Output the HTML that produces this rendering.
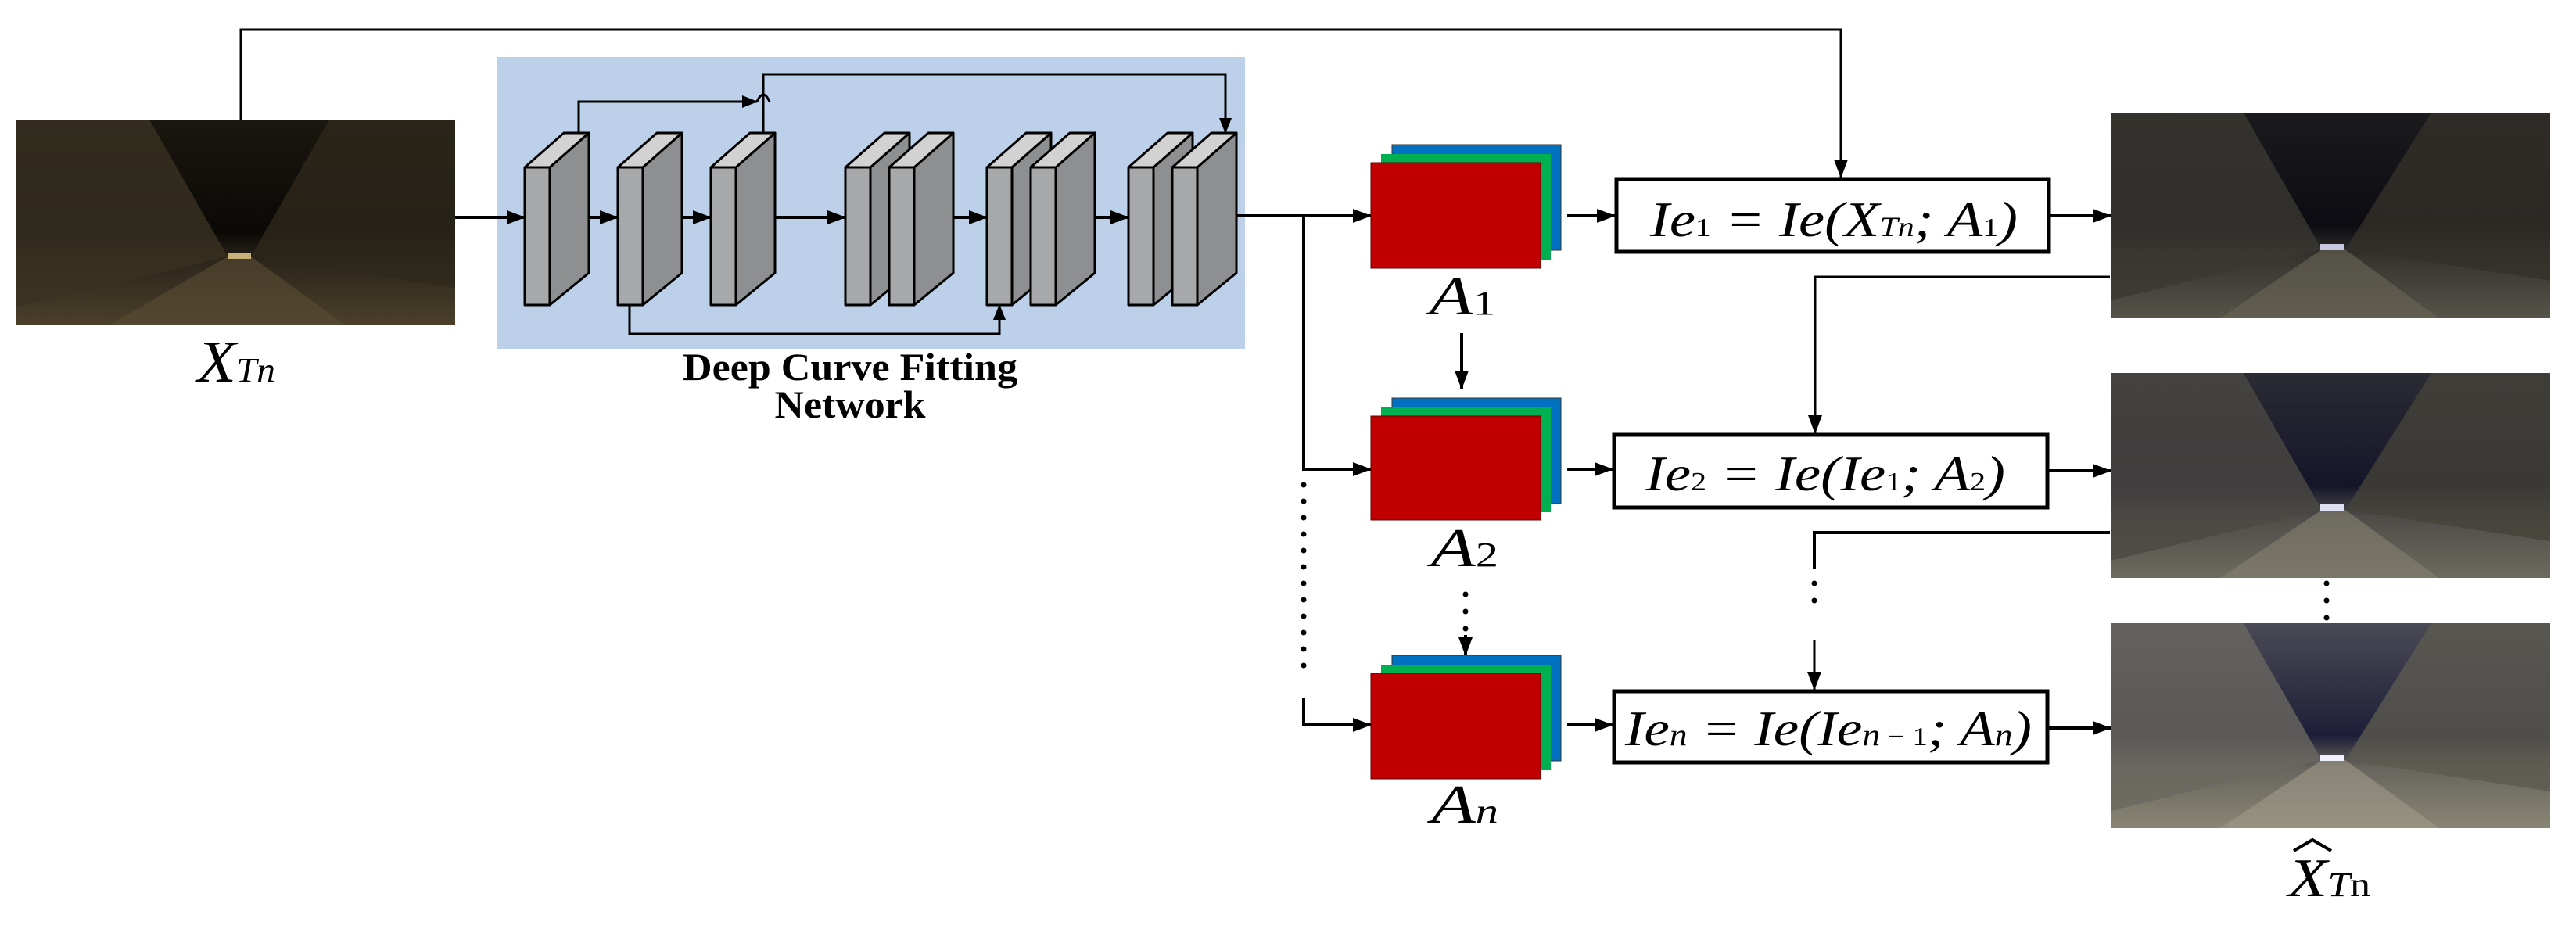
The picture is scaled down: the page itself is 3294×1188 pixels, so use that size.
<!DOCTYPE html>
<html><head><meta charset="utf-8"><style>
html,body{margin:0;padding:0;background:#fff}
svg{display:block}
</style></head><body>
<svg width="3294" height="1188" viewBox="0 0 3294 1188" xmlns="http://www.w3.org/2000/svg" font-family="'Liberation Serif', serif">
<defs>
<marker id="ah" viewBox="0 0 24 18" refX="23" refY="9" markerWidth="24" markerHeight="18" markerUnits="userSpaceOnUse" orient="auto">
<path d="M0,0 L24,9 L0,18 z" fill="#000"/></marker>
<marker id="ahs" viewBox="0 0 20 16" refX="19" refY="8" markerWidth="20" markerHeight="16" markerUnits="userSpaceOnUse" orient="auto">
<path d="M0,0 L20,8 L0,16 z" fill="#000"/></marker>
<linearGradient id="sky1" x1="0" y1="0" x2="0" y2="1"><stop offset="0" stop-color="#1a1710"/><stop offset="0.55" stop-color="#0b0906"/><stop offset="0.7" stop-color="#2d271b"/><stop offset="1" stop-color="#4a3f2a"/></linearGradient>
<linearGradient id="sky2" x1="0" y1="0" x2="0" y2="1"><stop offset="0" stop-color="#1b1b1e"/><stop offset="0.55" stop-color="#0c0c12"/><stop offset="0.7" stop-color="#35342f"/><stop offset="1" stop-color="#56534a"/></linearGradient>
<linearGradient id="sky3" x1="0" y1="0" x2="0" y2="1"><stop offset="0" stop-color="#2b2b33"/><stop offset="0.55" stop-color="#15152a"/><stop offset="0.7" stop-color="#4d4c48"/><stop offset="1" stop-color="#6d6a5e"/></linearGradient>
<linearGradient id="sky4" x1="0" y1="0" x2="0" y2="1"><stop offset="0" stop-color="#4a4a55"/><stop offset="0.55" stop-color="#1e1e38"/><stop offset="0.7" stop-color="#66645c"/><stop offset="1" stop-color="#8a8674"/></linearGradient>
</defs>

<g transform="translate(21,153)">
<rect width="561" height="262" fill="url(#sky1)"/>
<polygon points="0,0 170,0 270,175 0,240" fill="#3a3222" opacity="0.8"/>
<polygon points="561,0 400,0 300,175 561,215" fill="#2e281c" opacity="0.8"/>
<polygon points="270,175 300,175 420,262 120,262" fill="#5a4d33" opacity="0.6"/>
<rect x="270" y="170" width="30" height="8" fill="#c9b27a"/>
</g>
<g transform="translate(2699,144)">
<rect width="562" height="263" fill="url(#sky2)"/>
<polygon points="0,0 170,0 270,175 0,240" fill="#3a3832" opacity="0.8"/>
<polygon points="562,0 410,0 300,175 562,215" fill="#34312b" opacity="0.8"/>
<polygon points="270,175 300,175 420,263 140,263" fill="#6a6656" opacity="0.6"/>
<rect x="268" y="168" width="30" height="8" fill="#c7c7e0"/>
</g>
<g transform="translate(2699,477)">
<rect width="562" height="262" fill="url(#sky3)"/>
<polygon points="0,0 170,0 270,175 0,240" fill="#4b4943" opacity="0.8"/>
<polygon points="562,0 410,0 300,175 562,215" fill="#45423a" opacity="0.8"/>
<polygon points="270,175 300,175 420,262 140,262" fill="#858070" opacity="0.6"/>
<rect x="268" y="168" width="30" height="8" fill="#e0e0f5"/>
</g>
<g transform="translate(2699,797)">
<rect width="562" height="262" fill="url(#sky4)"/>
<polygon points="0,0 170,0 270,175 0,240" fill="#6a6860" opacity="0.8"/>
<polygon points="562,0 410,0 300,175 562,215" fill="#5d5a50" opacity="0.8"/>
<polygon points="270,175 300,175 420,262 140,262" fill="#a09a88" opacity="0.6"/>
<rect x="268" y="168" width="30" height="8" fill="#f0f0ff"/>
</g>

<rect x="636" y="73" width="956" height="373" fill="#bcd0e9"/>

<g stroke="#000" stroke-width="3" stroke-linejoin="round">
<g transform="translate(671,0)"><polygon points="32,214 82,170 82,349 32,390" fill="#8e8f91"/><polygon points="0,214 32,214 82,170 50,170" fill="#d2d2d2"/><rect x="0" y="214" width="32" height="176" fill="#a7a8aa"/></g>
<g transform="translate(790,0)"><polygon points="32,214 82,170 82,349 32,390" fill="#8e8f91"/><polygon points="0,214 32,214 82,170 50,170" fill="#d2d2d2"/><rect x="0" y="214" width="32" height="176" fill="#a7a8aa"/></g>
<g transform="translate(909,0)"><polygon points="32,214 82,170 82,349 32,390" fill="#8e8f91"/><polygon points="0,214 32,214 82,170 50,170" fill="#d2d2d2"/><rect x="0" y="214" width="32" height="176" fill="#a7a8aa"/></g>
<g transform="translate(1081,0)"><polygon points="32,214 82,170 82,349 32,390" fill="#8e8f91"/><polygon points="0,214 32,214 82,170 50,170" fill="#d2d2d2"/><rect x="0" y="214" width="32" height="176" fill="#a7a8aa"/></g>
<g transform="translate(1137,0)"><polygon points="32,214 82,170 82,349 32,390" fill="#8e8f91"/><polygon points="0,214 32,214 82,170 50,170" fill="#d2d2d2"/><rect x="0" y="214" width="32" height="176" fill="#a7a8aa"/></g>
<g transform="translate(1262,0)"><polygon points="32,214 82,170 82,349 32,390" fill="#8e8f91"/><polygon points="0,214 32,214 82,170 50,170" fill="#d2d2d2"/><rect x="0" y="214" width="32" height="176" fill="#a7a8aa"/></g>
<g transform="translate(1318,0)"><polygon points="32,214 82,170 82,349 32,390" fill="#8e8f91"/><polygon points="0,214 32,214 82,170 50,170" fill="#d2d2d2"/><rect x="0" y="214" width="32" height="176" fill="#a7a8aa"/></g>
<g transform="translate(1443,0)"><polygon points="32,214 82,170 82,349 32,390" fill="#8e8f91"/><polygon points="0,214 32,214 82,170 50,170" fill="#d2d2d2"/><rect x="0" y="214" width="32" height="176" fill="#a7a8aa"/></g>
<g transform="translate(1499,0)"><polygon points="32,214 82,170 82,349 32,390" fill="#8e8f91"/><polygon points="0,214 32,214 82,170 50,170" fill="#d2d2d2"/><rect x="0" y="214" width="32" height="176" fill="#a7a8aa"/></g>
</g>

<g stroke="#000" stroke-width="4" fill="none">
<line x1="582" y1="278" x2="671" y2="278" marker-end="url(#ah)"/>
<line x1="753" y1="278" x2="790" y2="278" marker-end="url(#ah)"/>
<line x1="872" y1="278" x2="909" y2="278" marker-end="url(#ah)"/>
<line x1="991" y1="278" x2="1081" y2="278" marker-end="url(#ah)"/>
<line x1="1219" y1="278" x2="1262" y2="278" marker-end="url(#ah)"/>
<line x1="1400" y1="278" x2="1443" y2="278" marker-end="url(#ah)"/>
<line x1="1581" y1="276" x2="1753" y2="276" marker-end="url(#ah)"/>
<polyline points="308,153 308,38 2354,38 2354,227" stroke-width="3" marker-end="url(#ah)"/>
<polyline points="740,170 740,130 968,130 M984,130 1204,130 1204,170" stroke-width="3" marker-end="url(#ahs)"/>
<path d="M968,130 Q976,112 984,130" stroke-width="3"/>
<polyline points="976,170 976,95 1567,95 1567,170" stroke-width="3" marker-end="url(#ahs)"/>
<polyline points="805,390 805,427 1278,427 1278,390" stroke-width="3" marker-end="url(#ahs)"/>
<polyline points="1667,276 1667,600 1753,600" marker-end="url(#ah)"/>
<line x1="1667" y1="620" x2="1667" y2="862" stroke-width="7" stroke-linecap="round" stroke-dasharray="0,21"/>
<polyline points="1667,893 1667,927 1753,927" marker-end="url(#ah)"/>
<line x1="2004" y1="276" x2="2065" y2="276" marker-end="url(#ah)"/>
<line x1="2004" y1="600" x2="2062" y2="600" marker-end="url(#ah)"/>
<line x1="2004" y1="927" x2="2062" y2="927" marker-end="url(#ah)"/>
<line x1="2621" y1="276" x2="2699" y2="276" marker-end="url(#ah)"/>
<line x1="2619" y1="602" x2="2699" y2="602" marker-end="url(#ah)"/>
<line x1="2619" y1="931" x2="2699" y2="931" marker-end="url(#ah)"/>
<line x1="1869" y1="426" x2="1869" y2="497" marker-end="url(#ah)"/>
<line x1="1874" y1="760" x2="1874" y2="805" stroke-width="7" stroke-linecap="round" stroke-dasharray="0,22"/>
<line x1="1874" y1="812" x2="1874" y2="838" marker-end="url(#ah)"/>
<polyline points="2698,354 2321,354 2321,554" stroke-width="3" marker-end="url(#ah)"/>
<polyline points="2698,681 2320,681 2320,727" stroke-width="4"/>
<line x1="2320" y1="746" x2="2320" y2="790" stroke-width="7" stroke-linecap="round" stroke-dasharray="0,22"/>
<line x1="2320" y1="818" x2="2320" y2="882" stroke-width="3" marker-end="url(#ah)"/>
<line x1="2975" y1="746" x2="2975" y2="792" stroke-width="7" stroke-linecap="round" stroke-dasharray="0,22"/>
</g>

<g>
<rect x="1780" y="185" width="216" height="135" fill="#0070c0" stroke="#333" stroke-width="1"/>
<rect x="1766" y="197" width="217" height="135" fill="#00b050"/>
<rect x="1753" y="208" width="217" height="135" fill="#c00000" stroke="#600" stroke-width="1"/>
<rect x="1780" y="509" width="216" height="135" fill="#0070c0" stroke="#333" stroke-width="1"/>
<rect x="1766" y="521" width="217" height="134" fill="#00b050"/>
<rect x="1753" y="532" width="217" height="133" fill="#c00000" stroke="#600" stroke-width="1"/>
<rect x="1780" y="838" width="216" height="135" fill="#0070c0" stroke="#333" stroke-width="1"/>
<rect x="1766" y="850" width="217" height="135" fill="#00b050"/>
<rect x="1753" y="861" width="217" height="135" fill="#c00000" stroke="#600" stroke-width="1"/>
</g>

<g fill="#fff" stroke="#000" stroke-width="5">
<rect x="2067" y="229" width="553" height="93"/>
<rect x="2064" y="556" width="554" height="93"/>
<rect x="2064" y="884" width="554" height="91"/>
</g>

<g font-style="italic" fill="#000" font-family="'Liberation Serif', serif">
<text x="2110" y="302" font-size="64" textLength="470" lengthAdjust="spacingAndGlyphs">Ie<tspan font-size="34" font-style="normal">1</tspan> = Ie(X<tspan font-size="36">Tn</tspan>; A<tspan font-size="34" font-style="normal">1</tspan>)</text>
<text x="2104" y="627" font-size="64" textLength="460" lengthAdjust="spacingAndGlyphs">Ie<tspan font-size="34" font-style="normal">2</tspan> = Ie(Ie<tspan font-size="34" font-style="normal">1</tspan>; A<tspan font-size="34" font-style="normal">2</tspan>)</text>
<text x="2078" y="953" font-size="64" textLength="520" lengthAdjust="spacingAndGlyphs">Ie<tspan font-size="40">n</tspan> = Ie(Ie<tspan font-size="40">n</tspan><tspan font-size="34" font-style="normal"> − 1</tspan>; A<tspan font-size="40">n</tspan>)</text>
<text x="1828" y="402" font-size="70" textLength="84" lengthAdjust="spacingAndGlyphs">A<tspan font-size="44" font-style="normal">1</tspan></text>
<text x="1830" y="724" font-size="70" textLength="86" lengthAdjust="spacingAndGlyphs">A<tspan font-size="44" font-style="normal">2</tspan></text>
<text x="1830" y="1052" font-size="70" textLength="86" lengthAdjust="spacingAndGlyphs">A<tspan font-size="44">n</tspan></text>
<text x="252" y="488" font-size="76" textLength="100" lengthAdjust="spacingAndGlyphs">X<tspan font-size="44">Tn</tspan></text>
<text x="2926" y="1146" font-size="70" textLength="105" lengthAdjust="spacingAndGlyphs">X<tspan font-size="44">T</tspan><tspan font-size="44" font-style="normal">n</tspan></text>
</g>
<polyline points="2933,1088 2957,1074 2981,1088" fill="none" stroke="#000" stroke-width="4"/>

<g font-weight="bold" fill="#000" text-anchor="middle" font-family="'Liberation Serif', serif">
<text x="1087" y="486" font-size="50" textLength="428" lengthAdjust="spacingAndGlyphs">Deep Curve Fitting</text>
<text x="1087" y="534" font-size="50" textLength="193" lengthAdjust="spacingAndGlyphs">Network</text>
</g>
</svg>
</body></html>
